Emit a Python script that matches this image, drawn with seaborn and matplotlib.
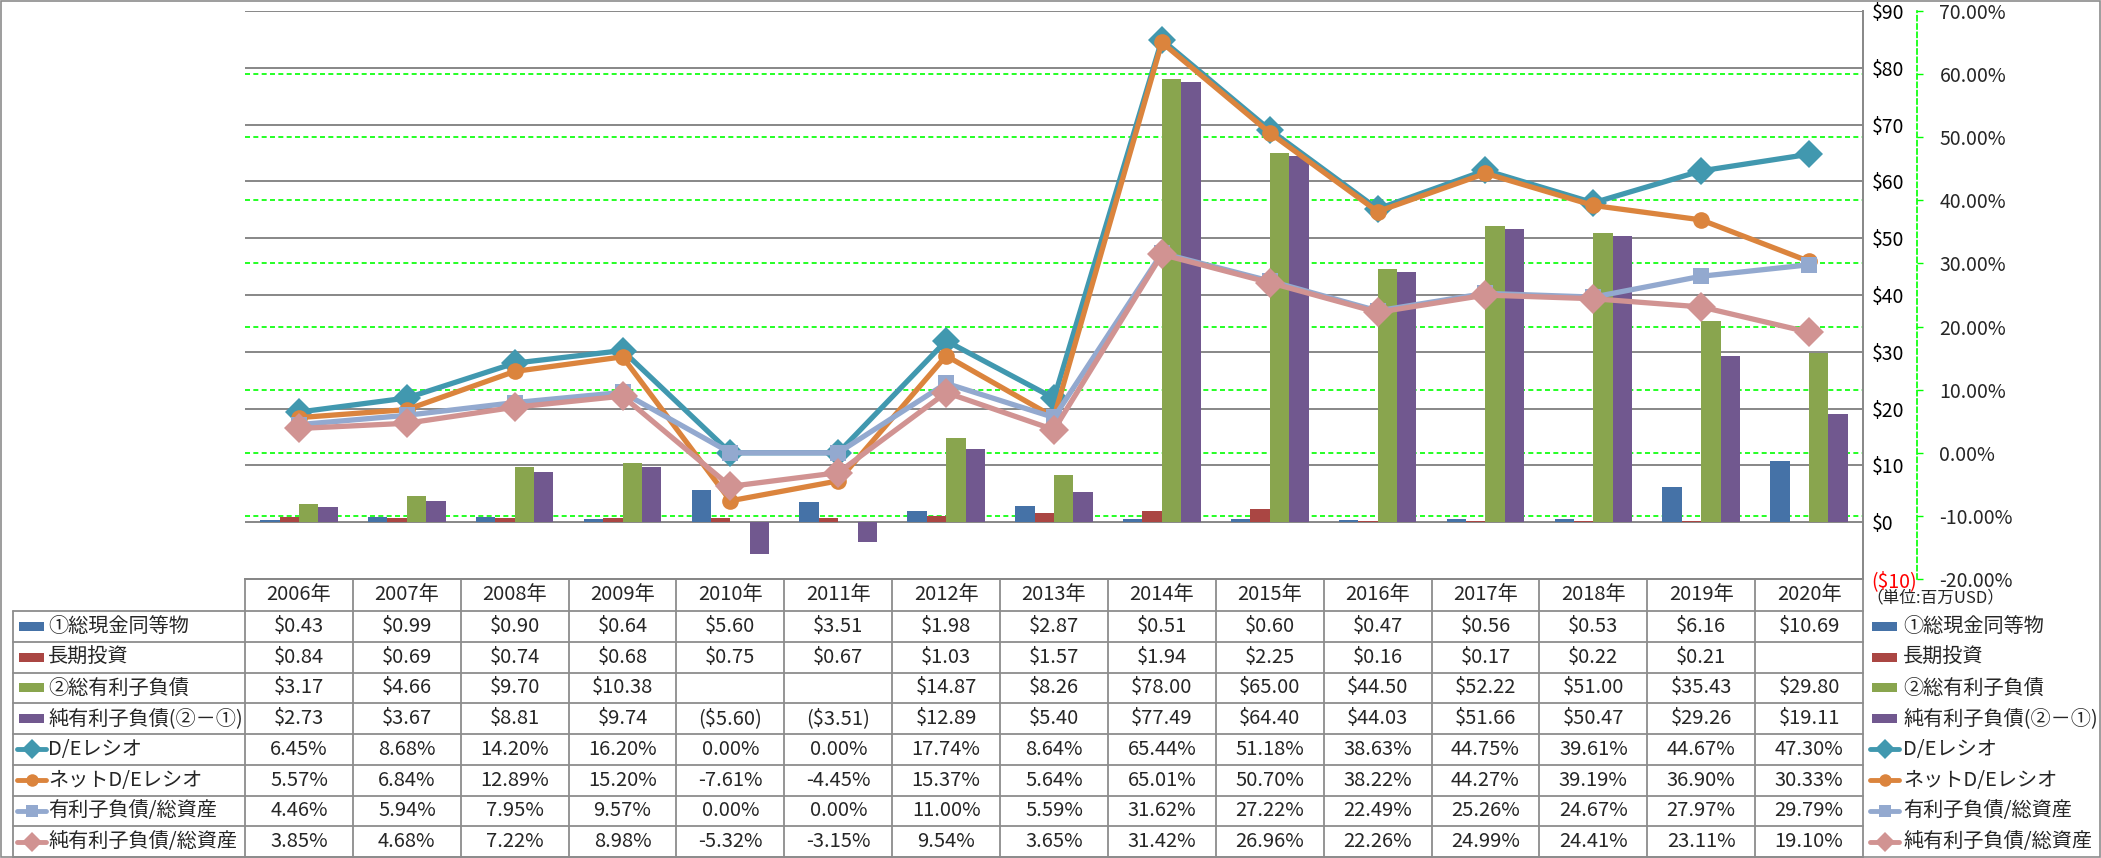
import matplotlib
matplotlib.use('Agg')
import matplotlib.pyplot as plt
from matplotlib.patches import Rectangle
from matplotlib.lines import Line2D
from matplotlib.transforms import blended_transform_factory
import numpy as np
import pandas as pd
import seaborn as sns

years = [f'{y}年' for y in range(2006, 2021)]

# bar series (百万USD)
cash = [0.43, 0.99, 0.90, 0.64, 5.60, 3.51, 1.98, 2.87, 0.51, 0.60, 0.47, 0.56, 0.53, 6.16, 10.69]
lt_invest = [0.84, 0.69, 0.74, 0.68, 0.75, 0.67, 1.03, 1.57, 1.94, 2.25, 0.16, 0.17, 0.22, 0.21, np.nan]
debt = [3.17, 4.66, 9.70, 10.38, np.nan, np.nan, 14.87, 8.26, 78.00, 65.00, 44.50, 52.22, 51.00, 35.43, 29.80]
net_debt = [2.73, 3.67, 8.81, 9.74, -5.60, -3.51, 12.89, 5.40, 77.49, 64.40, 44.03, 51.66, 50.47, 29.26, 19.11]

# line series (%)
de_ratio = [6.45, 8.68, 14.20, 16.20, 0.00, 0.00, 17.74, 8.64, 65.44, 51.18, 38.63, 44.75, 39.61, 44.67, 47.30]
net_de_ratio = [5.57, 6.84, 12.89, 15.20, -7.61, -4.45, 15.37, 5.64, 65.01, 50.70, 38.22, 44.27, 39.19, 36.90, 30.33]
debt_assets = [4.46, 5.94, 7.95, 9.57, 0.00, 0.00, 11.00, 5.59, 31.62, 27.22, 22.49, 25.26, 24.67, 27.97, 29.79]
net_debt_assets = [3.85, 4.68, 7.22, 8.98, -5.32, -3.15, 9.54, 3.65, 31.42, 26.96, 22.26, 24.99, 24.41, 23.11, 19.10]

bar_names = ['①総現金同等物', '長期投資', '②総有利子負債', '純有利子負債(②－①)']
line_names = ['D/Eレシオ', 'ネットD/Eレシオ', '有利子負債/総資産', '純有利子負債/総資産']
bar_colors = ['#4572A7', '#AA4643', '#89A54E', '#71588F']
line_colors = ['#4198AF', '#DB843D', '#93A9CF', '#D19392']
line_markers = ['D', 'o', 's', 'D']
marker_sizes = [14, 12, 11, 15]

bar_vals = [cash, lt_invest, debt, net_debt]
line_vals = [de_ratio, net_de_ratio, debt_assets, net_debt_assets]

sns.set_style('white')
plt.rcParams['font.family'] = ['Noto Sans CJK JP', 'DejaVu Sans']

W, H = 2101, 858
fig = plt.figure(figsize=(W / 100, H / 100), dpi=100)

# plot area (pixels)
PL, PR, PT, PB = 245, 1863, 11, 579
ax1 = fig.add_axes([PL / W, 1 - PB / H, (PR - PL) / W, (PB - PT) / H])
ax1.patch.set_visible(False)

bar_df = pd.DataFrame({'year': years, **dict(zip(bar_names, bar_vals))})
bar_df = bar_df.melt(id_vars='year', var_name='series', value_name='value').dropna()
sns.barplot(data=bar_df, x='year', y='value', hue='series', order=years,
            hue_order=bar_names, palette=dict(zip(bar_names, bar_colors)),
            width=0.72, errorbar=None, saturation=1, linewidth=0,
            legend=False, ax=ax1, zorder=2)

ax1.set_xlim(-0.5, len(years) - 0.5)
ax1.set_ylim(-10, 90)

ax2 = ax1.twinx()
ax2.set_ylim(-20, 70)
xs = np.arange(len(years))
for name, vals, c, m, ms in zip(line_names, line_vals, line_colors, line_markers, marker_sizes):
    sns.lineplot(x=xs, y=vals, ax=ax2, color=c, marker=m, markersize=ms,
                 markeredgecolor=c, markeredgewidth=0, linewidth=3.8)

# gridlines
gray = '#878787'
for v in range(0, 100, 10):
    ax1.axhline(v, color=gray, lw=1.4, zorder=0.5)
tr = blended_transform_factory(ax1.transAxes, ax2.transData)
for p in range(-10, 70, 10):
    ax1.plot([0, 1], [p, p], transform=tr, color='#00FF00', lw=1.2,
             ls=(0, (3, 2)), zorder=1)

ax1.set_xlim(-0.5, len(years) - 0.5)
ax1.set_ylim(-10, 90)
ax2.set_ylim(-20, 70)
ax1.set_xticks([])
ax2.set_xticks([])
ax1.set_xlabel('')
ax1.set_ylabel('')
ax2.set_xlabel('')
ax2.set_ylabel('')

# primary axis labels on the right
def money(v):
    return f'(${-v:.0f})' if v < 0 else f'${v:.0f}'

yt1 = list(range(-10, 100, 10))
ax1.yaxis.tick_right()
ax1.set_yticks(yt1)
ax1.set_yticklabels([money(v) for v in yt1])
ax1.tick_params(axis='y', length=0, pad=6, labelsize=14)
for lbl, v in zip(ax1.get_yticklabels(), yt1):
    lbl.set_color('red' if v < 0 else 'black')

yt2 = list(range(-20, 80, 10))
ax2.set_yticks(yt2)
ax2.set_yticklabels([f'{v:.2f}%' for v in yt2])
ax2.tick_params(axis='y', length=4, width=1, color='#00FF00', pad=12, labelsize=14)
for lbl, v in zip(ax2.get_yticklabels(), yt2):
    lbl.set_color('red' if v < 0 else 'black')

for s in ['top', 'left']:
    ax1.spines[s].set_visible(False)
ax1.spines['right'].set_color(gray)
ax1.spines['bottom'].set_color(gray)
ax1.spines['right'].set_linewidth(1.4)
ax1.spines['bottom'].set_linewidth(1.4)
for s in ['top', 'left', 'bottom']:
    ax2.spines[s].set_visible(False)
ax2.spines['right'].set_position(('outward', 39))
ax2.spines['right'].set_color('#00FF00')
ax2.spines['right'].set_linestyle((0, (3, 2)))
ax2.spines['right'].set_linewidth(1.2)

# data table drawn in pixel space
tax = fig.add_axes([0, 0, 1, 1], zorder=-1)
tax.set_xlim(0, W)
tax.set_ylim(H, 0)
tax.axis('off')

lc = '#8C8C8C'
TL = 13
HT, HB = PB, 611
rh = (H - 1 - HB) / 8
cw = (PR - PL) / len(years)
fs = 14.5

tax.add_patch(Rectangle((0.5, 0.5), W - 1.5, H - 1.5, fill=False, ec=lc, lw=1.2))
tax.plot([PL, PR], [HT, HT], color=lc, lw=1.3)
for i in range(9):
    y = HB + i * rh
    tax.plot([TL, PR], [y, y], color=lc, lw=1.3)
tax.plot([TL, TL], [HB, H - 1], color=lc, lw=1.3)
for j in range(len(years) + 1):
    x = PL + j * cw
    tax.plot([x, x], [HT, H - 1], color=lc, lw=1.3)

for j, yr in enumerate(years):
    tax.text(PL + (j + 0.5) * cw, (HT + HB) / 2, yr, ha='center', va='center', fontsize=fs)

def fmt_money(v):
    if np.isnan(v):
        return ''
    return f'(${-v:.2f})' if v < 0 else f'${v:.2f}'

row_names = bar_names + line_names
row_vals = bar_vals + line_vals
row_colors = bar_colors + line_colors
swatch_ms = [10, 9, 8.5, 10.5]

def swatch(x0, yc, k):
    if k < 4:
        tax.add_patch(Rectangle((x0, yc - 4.5), 25, 9, color=row_colors[k], lw=0))
    else:
        tax.add_line(Line2D([x0 - 2, x0 + 27], [yc, yc], color=row_colors[k], lw=3.5))
        tax.add_line(Line2D([x0 + 12.5], [yc], marker=line_markers[k - 4],
                            markersize=swatch_ms[k - 4], color=row_colors[k],
                            markeredgewidth=0))

for k in range(8):
    yc = HB + (k + 0.5) * rh
    swatch(19, yc, k)
    tax.text(48, yc, row_names[k], ha='left', va='center', fontsize=fs)
    swatch(1872, yc, k)
    tax.text(1903, yc, row_names[k], ha='left', va='center', fontsize=fs)
    for j in range(len(years)):
        v = row_vals[k][j]
        s = fmt_money(v) if k < 4 else f'{v:.2f}%'
        tax.text(PL + (j + 0.5) * cw, yc, s, ha='center', va='center', fontsize=fs)

tax.text(1866, 598, '（単位:百万USD）', ha='left', va='center', fontsize=12)

fig.savefig('out.png', dpi=100)
